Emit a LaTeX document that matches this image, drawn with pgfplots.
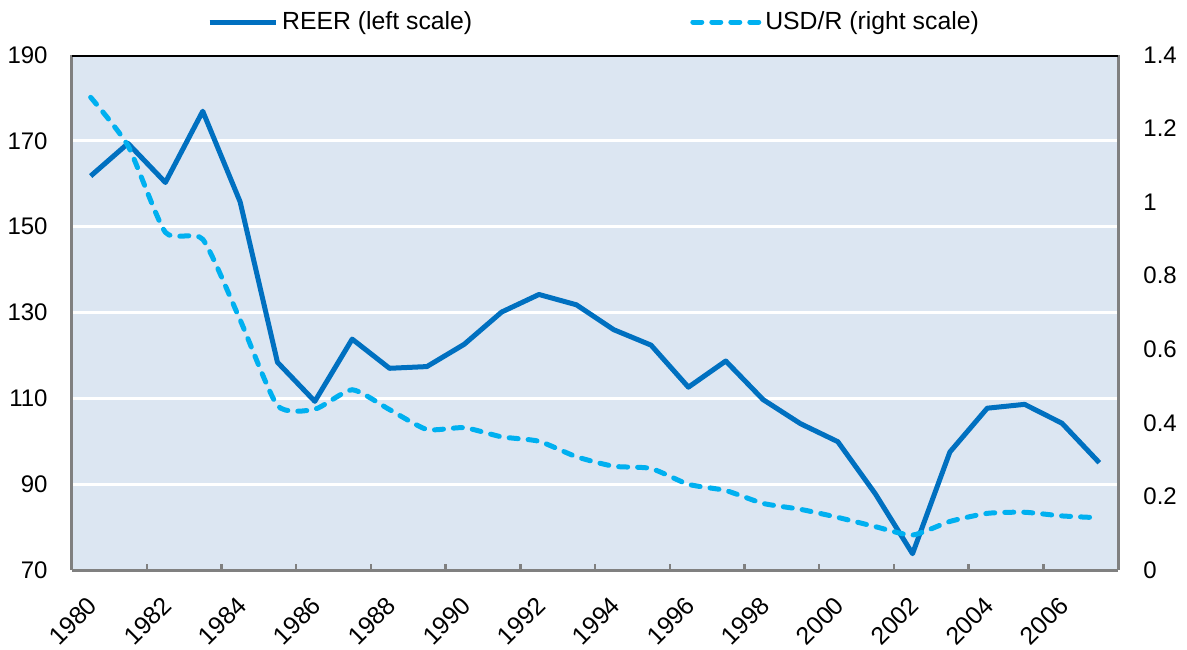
\documentclass[border=0pt]{standalone}
\usepackage{fontspec}
\setmainfont{Liberation Sans}
\usepackage{pgfplots}
\pgfplotsset{compat=1.18}
\usetikzlibrary{calc}
\definecolor{reer}{RGB}{0,112,192}
\definecolor{usd}{RGB}{0,176,240}
\definecolor{bgc}{RGB}{220,230,242}
\definecolor{axgray}{RGB}{128,128,128}

\pgfplotstableread{
year reer
1980 161.8
1981 169.4
1982 160.3
1983 176.9
1984 155.8
1985 118.4
1986 109.3
1987 123.8
1988 117.0
1989 117.4
1990 122.6
1991 130.1
1992 134.2
1993 131.8
1994 126.0
1995 122.4
1996 112.6
1997 118.7
1998 109.7
1999 104.1
2000 99.9
2001 87.8
2002 73.8
2003 97.5
2004 107.7
2005 108.6
2006 104.2
2007 95.0
}\reertab

\pgfplotstableread{
year usd
1980 1.285
1981 1.153
1982 0.918
1983 0.899
1984 0.680
1985 0.447
1986 0.437
1987 0.490
1988 0.436
1989 0.382
1990 0.387
1991 0.362
1992 0.350
1993 0.308
1994 0.282
1995 0.276
1996 0.233
1997 0.216
1998 0.181
1999 0.165
2000 0.143
2001 0.118
2002 0.095
2003 0.132
2004 0.154
2005 0.157
2006 0.147
2007 0.142
}\usdtab

\begin{document}
\fontsize{12}{14}\selectfont
\begin{tikzpicture}
\pgfplotsset{
  common/.style={
    scale only axis, width=523pt, height=257.5pt,
    xmin=1979.5, xmax=2007.5,
    /pgf/number format/assume math mode=true,
    tick label style={font=\fontsize{12}{14}\selectfont},
    major tick length=0pt,
  },
}
\begin{axis}[common, name=main,
  ymin=70, ymax=190,
  ytick={70,90,...,190},
  axis x line*=bottom, axis y line*=left,
  axis line style={axgray, line width=1.5pt},
  axis background/.style={fill=bgc},
  ymajorgrids, grid style={white, line width=1.5pt},
  xtick={1980,1982,...,2006},
  xticklabels={1980,1982,1984,1986,1988,1990,1992,1994,1996,1998,2000,2002,2004,2006},
  minor xtick={1981.5,1983.5,...,2005.5},
  minor tick length=3pt,
  tick align=inside,
  every tick/.style={axgray, line width=1.2pt},
  xticklabel style={xshift=3.9pt, yshift=-12.7pt, rotate=45, anchor=east,
    font=\fontsize{12.4}{14}\selectfont},
  yticklabel style={xshift=-8pt},
]
\addplot[reer, line width=2.5pt, line join=round] table[x=year, y=reer] {\reertab};
\end{axis}
\begin{axis}[common,
  ymin=0, ymax=1.4,
  ytick={0,0.2,0.4,0.6,0.8,1,1.2,1.4},
  xtick=\empty,
  axis x line=none, axis y line*=right,
  axis line style={axgray, line width=1.5pt},
  yticklabel style={xshift=8.5pt},
  legend style={at={(0.5,1)}, anchor=center, yshift=16.5pt, draw=none, fill=none,
    font=\fontsize{12.4}{14}\selectfont,
    legend columns=2,
    /tikz/every even column/.append style={column sep=107pt}},
  legend image code/.code={\draw[#1] (0pt,0pt) -- (33pt,0pt);},
]
\addlegendimage{reer, line width=2.5pt, line join=round}
\addlegendentry{REER (left scale)}
\addplot[usd, line width=2.5pt, line cap=round, dash pattern=on 4.5pt off 5pt, smooth, tension=0.35] table[x=year, y=usd] {\usdtab};
\addlegendentry{USD/R (right scale)}
\draw[black, line width=1.5pt] (rel axis cs:0,1) -- (rel axis cs:1,1);
\end{axis}
\pgfresetboundingbox
\path ($(main.south west)+(-36pt,-39.5pt)$) rectangle ($(main.north east)+(34.5pt,27.5pt)$);
\end{tikzpicture}
\end{document}
